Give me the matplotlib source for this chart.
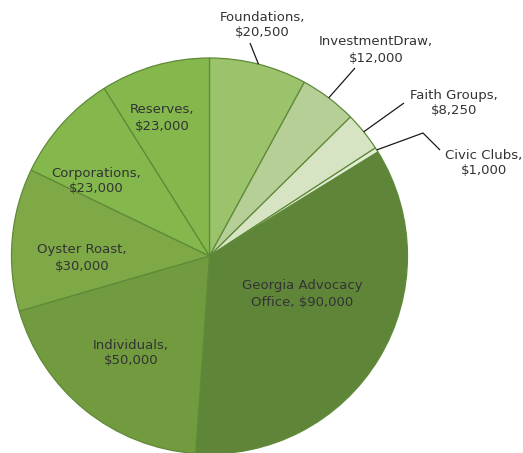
import numpy as np
import matplotlib
matplotlib.use("Agg")
import matplotlib.pyplot as plt

# Budget sources, clockwise from 12 o'clock
labels = ["Foundations", "InvestmentDraw", "Faith Groups", "Civic Clubs",
          "Georgia Advocacy\nOffice", "Individuals", "Oyster Roast",
          "Corporations", "Reserves"]
amounts = [20500, 12000, 8250, 1000, 90000, 50000, 30000, 23000, 23000]
colors = ["#9bc36b", "#b5cf97", "#d6e4c4", "#e3ecd7", "#5f8539",
          "#729b3f", "#7ea946", "#84b84d", "#84b84d"]

W, H = 523, 453
CX, CY, R = 209.5, H - 256, 198
TEXT_COLOR = "#333333"
EDGE = "#5f8a38"
FS = 9.5


def _img(x, y):
    # picture coords (y down) -> axes coords (y up)
    return x, H - y


def _fmt(label, amount):
    # the big slice keeps "Office, $90,000" on one line
    sep = " " if "\n" in label else "\n"
    return "{0},{1}${2:,}".format(label, sep, amount)


# where the label text sits (picture coords) and, for outside labels,
# the leader line points from the text towards the rim
_inside = {
    "Georgia Advocacy\nOffice": (302, 294),
    "Individuals": (131, 353),
    "Oyster Roast": (82, 258),
    "Corporations": (96, 181),
    "Reserves": (162, 118),
}
_outside = {
    "Foundations": ((262, 25), [(250, 43)]),
    "InvestmentDraw": ((376, 50), [(355, 68)]),
    "Faith Groups": ((454, 103), [(404, 103)]),
    "Civic Clubs": ((484, 163), [(440, 150), (423, 133)]),
}

fig = plt.figure(figsize=(W / 100, H / 100), dpi=100, facecolor="white")
ax = fig.add_axes([0, 0, 1, 1])

wedges, _ = ax.pie(amounts, colors=colors, startangle=90, counterclock=False,
                   center=(CX, CY), radius=R,
                   wedgeprops={"edgecolor": EDGE, "linewidth": 0.9})

for w, lab, amt in zip(wedges, labels, amounts):
    if lab in _inside:
        x, y = _img(*_inside[lab])
    else:
        (tx, ty), pts = _outside[lab]
        x, y = _img(tx, ty)
        mid = np.deg2rad((w.theta1 + w.theta2) / 2)
        rim = (CX + R * np.cos(mid), CY + R * np.sin(mid))
        path = [_img(*p) for p in pts] + [rim]
        ax.plot([p[0] for p in path], [p[1] for p in path],
                color="#1a1a1a", linewidth=0.9, solid_capstyle="butt")
    ax.text(x, y, _fmt(lab, amt), ha="center", va="center", fontsize=FS,
            color=TEXT_COLOR, linespacing=1.3)

ax.set_xlim(0, W)
ax.set_ylim(0, H)
ax.set_aspect("equal")
ax.axis("off")

fig.savefig("out.png", dpi=100, facecolor="white")
